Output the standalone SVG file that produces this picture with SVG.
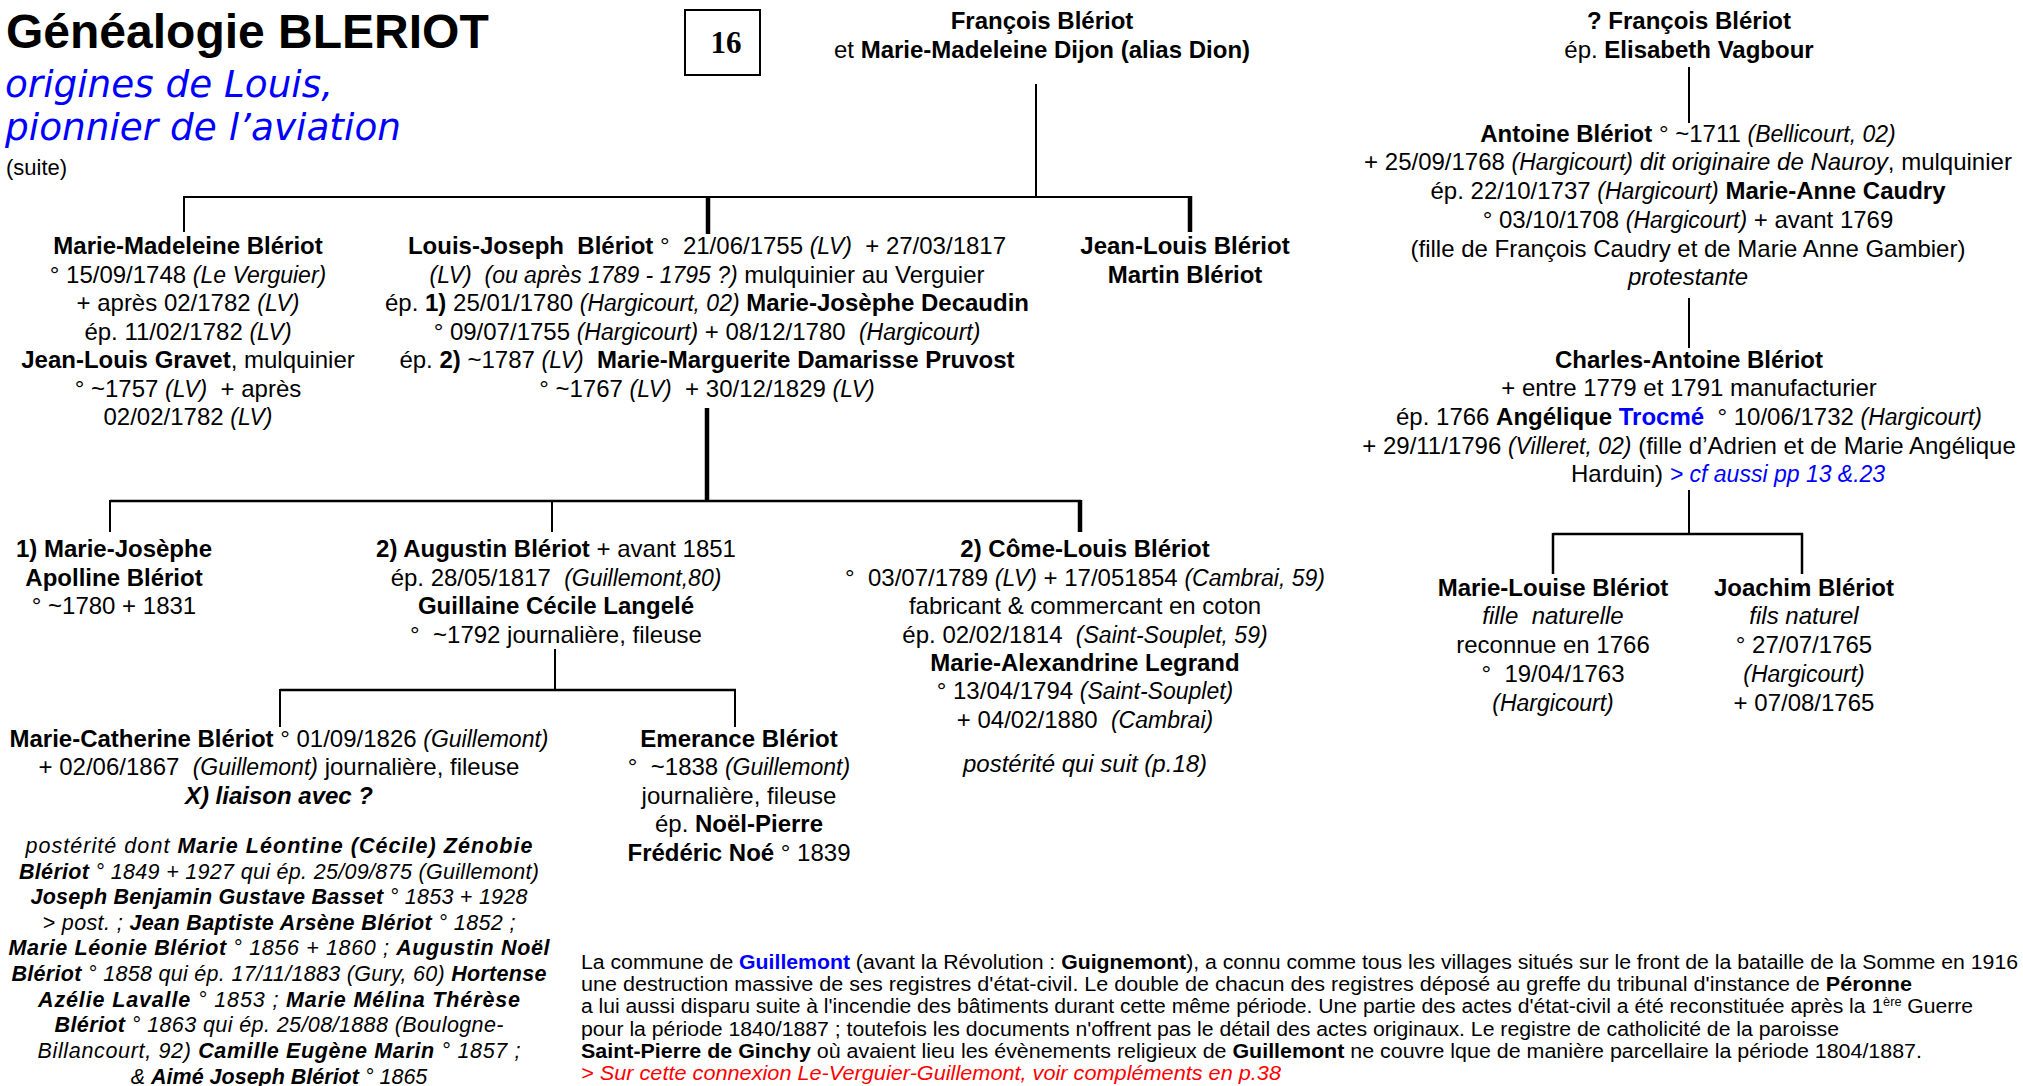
<svg xmlns="http://www.w3.org/2000/svg" width="2023" height="1086" viewBox="0 0 2023 1086" xml:space="preserve">
<style>
text { font-family: "Liberation Sans", Arial, sans-serif; font-size: 24px; fill: #000; white-space: pre; }
.m { text-anchor: middle; }
.b { font-weight: bold; }
.i { font-style: italic; }
.s { font-style: italic; font-size: 23px; }
.blue { fill: #0000ff; }
.red { fill: #ff0000; }
.ttl { font-size: 48px; font-weight: bold; }
.sub { font-family: "DejaVu Sans", Verdana, sans-serif; font-style: italic; font-size: 37.5px; fill: #0000ff; }
.p { font-size: 21.5px; font-style: italic; }
.n { font-size: 20px; }
.ln { stroke: #000; stroke-width: 2; fill: none; }
.thk { stroke-width: 4.5; }
</style>
<rect width="2023" height="1086" fill="#fff"/>

<g id="title">
<text x="6" y="48" class="ttl">Généalogie BLERIOT</text>
<text x="5" y="97" class="sub" textLength="328" lengthAdjust="spacingAndGlyphs">origines de Louis,</text>
<text x="5" y="140" class="sub" textLength="396" lengthAdjust="spacingAndGlyphs">pionnier de l’aviation</text>
<text x="6" y="175" style="font-size:22px">(suite)</text>
</g>

<g id="page-number">
<rect x="685" y="10" width="75" height="65" fill="none" stroke="#000" stroke-width="2"/>
<text x="726" y="53" class="m b" style="font-family:'Liberation Serif','Times New Roman',serif;font-size:31px">16</text>
</g>

<g id="connectors">
<line class="ln" x1="1036" y1="84" x2="1036" y2="197"/>
<line class="ln" x1="184" y1="197" x2="1191" y2="197"/>
<line class="ln" x1="184" y1="196" x2="184" y2="232"/>
<line class="ln thk" x1="708" y1="196" x2="708" y2="234"/>
<line class="ln thk" x1="1190" y1="196" x2="1190" y2="232"/>
<line class="ln thk" x1="707" y1="408" x2="707" y2="502"/>
<line class="ln" x1="110" y1="501" x2="1081" y2="501" style="stroke-width:2.5"/>
<line class="ln" x1="110" y1="500" x2="110" y2="532"/>
<line class="ln" x1="552" y1="500" x2="552" y2="532"/>
<line class="ln thk" x1="1080" y1="500" x2="1080" y2="532"/>
<line class="ln" x1="555" y1="649" x2="555" y2="690"/>
<line class="ln" x1="280" y1="690" x2="736" y2="690" style="stroke-width:2.5"/>
<line class="ln" x1="280" y1="689" x2="280" y2="727"/>
<line class="ln" x1="735" y1="689" x2="735" y2="727"/>
<line class="ln" x1="1689" y1="67" x2="1689" y2="123"/>
<line class="ln" x1="1689" y1="298" x2="1689" y2="348"/>
<line class="ln" x1="1689" y1="490" x2="1689" y2="534"/>
<line class="ln" x1="1553" y1="534" x2="1803" y2="534" style="stroke-width:2.5"/>
<line class="ln" x1="1553" y1="533" x2="1553" y2="574" style="stroke-width:2.5"/>
<line class="ln" x1="1802" y1="533" x2="1802" y2="574" style="stroke-width:2.5"/>
</g>

<g id="node-francois-dijon">
<text x="1042" y="29" class="m b">François Blériot</text>
<text x="1042" y="58" class="m">et <tspan class="b">Marie-Madeleine Dijon (alias Dion)</tspan></text>
</g>

<g id="node-marie-madeleine">
<text x="188" y="254" class="m b">Marie-Madeleine Blériot</text>
<text x="188" y="283" class="m">° 15/09/1748 <tspan class="s">(Le Verguier)</tspan></text>
<text x="188" y="311" class="m">+ après 02/1782 <tspan class="s">(LV)</tspan></text>
<text x="188" y="340" class="m">ép. 11/02/1782 <tspan class="s">(LV)</tspan></text>
<text x="188" y="368" class="m"><tspan class="b">Jean-Louis Gravet</tspan>, mulquinier</text>
<text x="188" y="397" class="m">° ~1757 <tspan class="s">(LV)</tspan>  + après</text>
<text x="188" y="425" class="m">02/02/1782 <tspan class="s">(LV)</tspan></text>
</g>

<g id="node-louis-joseph">
<text x="707" y="254" class="m"><tspan class="b">Louis-Joseph  Blériot</tspan> °  21/06/1755 <tspan class="s">(LV)</tspan>  + 27/03/1817</text>
<text x="707" y="283" class="m"><tspan class="s">(LV)  (ou après 1789 - 1795 ?)</tspan> mulquinier au Verguier</text>
<text x="707" y="311" class="m">ép. <tspan class="b">1)</tspan> 25/01/1780 <tspan class="s">(Hargicourt, 02)</tspan> <tspan class="b">Marie-Josèphe Decaudin</tspan></text>
<text x="707" y="340" class="m">° 09/07/1755 <tspan class="s">(Hargicourt)</tspan> + 08/12/1780  <tspan class="s">(Hargicourt)</tspan></text>
<text x="707" y="368" class="m">ép. <tspan class="b">2)</tspan> ~1787 <tspan class="s">(LV)</tspan>  <tspan class="b">Marie-Marguerite Damarisse Pruvost</tspan></text>
<text x="707" y="397" class="m">° ~1767 <tspan class="s">(LV)</tspan>  + 30/12/1829 <tspan class="s">(LV)</tspan></text>
</g>

<g id="node-jean-louis">
<text x="1185" y="254" class="m b">Jean-Louis Blériot</text>
<text x="1185" y="283" class="m b">Martin Blériot</text>
</g>

<g id="node-marie-josephe">
<text x="114" y="557" class="m b">1) Marie-Josèphe</text>
<text x="114" y="586" class="m b">Apolline Blériot</text>
<text x="114" y="614" class="m">° ~1780 + 1831</text>
</g>

<g id="node-augustin">
<text x="556" y="557" class="m"><tspan class="b">2) Augustin Blériot</tspan> + avant 1851</text>
<text x="556" y="586" class="m">ép. 28/05/1817  <tspan class="s">(Guillemont,80)</tspan></text>
<text x="556" y="614" class="m b">Guillaine Cécile Langelé</text>
<text x="556" y="643" class="m">°  ~1792 journalière, fileuse</text>
</g>

<g id="node-come-louis">
<text x="1085" y="557" class="m b">2) Côme-Louis Blériot</text>
<text x="1085" y="586" class="m">°  03/07/1789 <tspan class="s">(LV)</tspan> + 17/051854 <tspan class="s">(Cambrai, 59)</tspan></text>
<text x="1085" y="614" class="m">fabricant &amp; commercant en coton</text>
<text x="1085" y="643" class="m">ép. 02/02/1814  <tspan class="s">(Saint-Souplet, 59)</tspan></text>
<text x="1085" y="671" class="m b">Marie-Alexandrine Legrand</text>
<text x="1085" y="699" class="m">° 13/04/1794 <tspan class="s">(Saint-Souplet)</tspan></text>
<text x="1085" y="728" class="m">+ 04/02/1880  <tspan class="s">(Cambrai)</tspan></text>
<text x="1085" y="772" class="m i">postérité qui suit (p.18)</text>
</g>

<g id="node-marie-catherine">
<text x="279" y="747" class="m"><tspan class="b">Marie-Catherine Blériot</tspan> ° 01/09/1826 <tspan class="s">(Guillemont)</tspan></text>
<text x="279" y="775" class="m">+ 02/06/1867  <tspan class="s">(Guillemont)</tspan> journalière, fileuse</text>
<text x="279" y="804" class="m b i">X) liaison avec ?</text>
<text x="279" y="853" class="m p" textLength="507" lengthAdjust="spacing">postérité dont <tspan class="b">Marie Léontine (Cécile) Zénobie</tspan></text>
<text x="279" y="879" class="m p" textLength="520" lengthAdjust="spacing"><tspan class="b">Blériot</tspan> ° 1849 + 1927 qui ép. 25/09/875 (Guillemont)</text>
<text x="279" y="904" class="m p" textLength="497" lengthAdjust="spacing"><tspan class="b">Joseph Benjamin Gustave Basset</tspan> ° 1853 + 1928</text>
<text x="279" y="930" class="m p" textLength="473" lengthAdjust="spacing">&gt; post. ; <tspan class="b">Jean Baptiste Arsène Blériot</tspan> ° 1852 ;</text>
<text x="279" y="955" class="m p" textLength="541" lengthAdjust="spacing"><tspan class="b">Marie Léonie Blériot</tspan> ° 1856 + 1860 ; <tspan class="b">Augustin Noël</tspan></text>
<text x="279" y="981" class="m p" textLength="535" lengthAdjust="spacing"><tspan class="b">Blériot</tspan> ° 1858 qui ép. 17/11/1883 (Gury, 60) <tspan class="b">Hortense</tspan></text>
<text x="279" y="1007" class="m p" textLength="482" lengthAdjust="spacing"><tspan class="b">Azélie Lavalle</tspan> ° 1853 ; <tspan class="b">Marie Mélina Thérèse</tspan></text>
<text x="279" y="1032" class="m p" textLength="449" lengthAdjust="spacing"><tspan class="b">Blériot</tspan> ° 1863 qui ép. 25/08/1888 (Boulogne-</text>
<text x="279" y="1058" class="m p" textLength="483" lengthAdjust="spacing">Billancourt, 92) <tspan class="b">Camille Eugène Marin</tspan> ° 1857 ;</text>
<text x="279" y="1084" class="m p">&amp; <tspan class="b">Aimé Joseph Blériot</tspan> ° 1865</text>
</g>

<g id="node-emerance">
<text x="739" y="747" class="m b">Emerance Blériot</text>
<text x="739" y="775" class="m">°  ~1838 <tspan class="s">(Guillemont)</tspan></text>
<text x="739" y="804" class="m">journalière, fileuse</text>
<text x="739" y="832" class="m">ép. <tspan class="b">Noël-Pierre</tspan></text>
<text x="739" y="861" class="m"><tspan class="b">Frédéric Noé</tspan> ° 1839</text>
</g>

<g id="node-francois-vagbour">
<text x="1689" y="29" class="m b">? François Blériot</text>
<text x="1689" y="58" class="m">ép. <tspan class="b">Elisabeth Vagbour</tspan></text>
</g>

<g id="node-antoine">
<text x="1688" y="142" class="m"><tspan class="b">Antoine Blériot</tspan> ° ~1711 <tspan class="s">(Bellicourt, 02)</tspan></text>
<text x="1688" y="170" class="m">+ 25/09/1768 <tspan class="s">(Hargicourt)</tspan> <tspan class="i">dit originaire de Nauroy</tspan>, mulquinier</text>
<text x="1688" y="199" class="m">ép. 22/10/1737 <tspan class="s">(Hargicourt)</tspan> <tspan class="b">Marie-Anne Caudry</tspan></text>
<text x="1688" y="228" class="m">° 03/10/1708 <tspan class="s">(Hargicourt)</tspan> + avant 1769</text>
<text x="1688" y="257" class="m">(fille de François Caudry et de Marie Anne Gambier)</text>
<text x="1688" y="285" class="m i">protestante</text>
</g>

<g id="node-charles-antoine">
<text x="1689" y="368" class="m b">Charles-Antoine Blériot</text>
<text x="1689" y="396" class="m">+ entre 1779 et 1791 manufacturier</text>
<text x="1689" y="425" class="m">ép. 1766 <tspan class="b">Angélique </tspan><tspan class="b blue">Trocmé</tspan>  ° 10/06/1732 <tspan class="s">(Hargicourt)</tspan></text>
<text x="1689" y="454" class="m">+ 29/11/1796 <tspan class="s">(Villeret, 02)</tspan> (fille d’Adrien et de Marie Angélique</text>
<text x="1571" y="482">Harduin) <tspan class="s blue">&gt; cf aussi pp 13 &amp;.23</tspan></text>
</g>

<g id="node-marie-louise">
<text x="1553" y="596" class="m b">Marie-Louise Blériot</text>
<text x="1553" y="624" class="m i">fille  naturelle</text>
<text x="1553" y="653" class="m">reconnue en 1766</text>
<text x="1553" y="682" class="m">°  19/04/1763</text>
<text x="1553" y="711" class="m s">(Hargicourt)</text>
</g>

<g id="node-joachim">
<text x="1804" y="596" class="m b">Joachim Blériot</text>
<text x="1804" y="624" class="m i">fils naturel</text>
<text x="1804" y="653" class="m">° 27/07/1765</text>
<text x="1804" y="682" class="m s">(Hargicourt)</text>
<text x="1804" y="711" class="m">+ 07/08/1765</text>
</g>

<g id="note-guillemont">
<text x="581" y="969" class="n" textLength="1437" lengthAdjust="spacingAndGlyphs">La commune de <tspan class="b blue">Guillemont</tspan> (avant la Révolution : <tspan class="b">Guignemont</tspan>), a connu comme tous les villages situés sur le front de la bataille de la Somme en 1916</text>
<text x="581" y="991" class="n" textLength="1331" lengthAdjust="spacingAndGlyphs">une destruction massive de ses registres d'état-civil. Le double de chacun des registres déposé au greffe du tribunal d'instance de <tspan class="b">Péronne</tspan></text>
<text x="581" y="1013" class="n" textLength="1392" lengthAdjust="spacingAndGlyphs">a lui aussi disparu suite à l'incendie des bâtiments durant cette même période. Une partie des actes d'état-civil a été reconstituée après la 1<tspan dy="-7" style="font-size:12px">ère</tspan><tspan dy="7"> Guerre</tspan></text>
<text x="581" y="1036" class="n" textLength="1258" lengthAdjust="spacingAndGlyphs">pour la période 1840/1887 ; toutefois les documents n'offrent pas le détail des actes originaux. Le registre de catholicité de la paroisse</text>
<text x="581" y="1058" class="n" textLength="1341" lengthAdjust="spacingAndGlyphs"><tspan class="b">Saint-Pierre de Ginchy</tspan> où avaient lieu les évènements religieux de <tspan class="b">Guillemont</tspan> ne couvre lque de manière parcellaire la période 1804/1887.</text>
<text x="581" y="1080" class="n i red" textLength="700" lengthAdjust="spacingAndGlyphs">&gt; Sur cette connexion Le-Verguier-Guillemont, voir compléments en p.38</text>
</g>
</svg>
